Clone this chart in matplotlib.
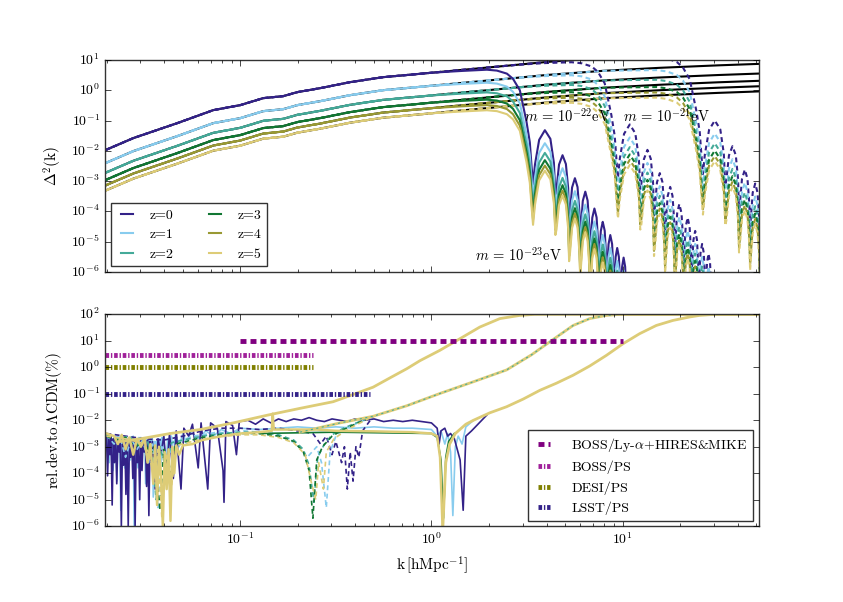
import numpy as np
import matplotlib
matplotlib.use("Agg")
import matplotlib.pyplot as plt
from matplotlib.ticker import NullLocator

# ---------------- top panel data ----------------
z_labels = ["z=0", "z=1", "z=2", "z=3", "z=4", "z=5"]
z_colors = ["#332288", "#88CCEE", "#44AA99", "#117733", "#999933", "#DDCC77"]
# growth of Delta^2 relative to z=0 (dex), read at large scales
z_offset = [0.0, -0.43, -0.75, -0.99, -1.17, -1.34]

# LCDM Delta^2 at z=0: (log10 k, log10 Delta^2)
cdm_z0 = [(-1.705, -1.97), (-1.559, -1.574), (-1.329, -1.079), (-1.141, -0.650),
          (-1.000, -0.485), (-0.880, -0.254), (-0.775, -0.188), (-0.702, -0.056),
          (-0.582, 0.076), (-0.426, 0.274), (-0.253, 0.439), (-0.060, 0.550),
          (0.160, 0.680), (0.400, 0.820), (0.600, 0.940), (0.900, 1.080),
          (1.200, 1.180), (1.500, 1.260), (1.720, 1.310)]

# FDM cut-off for m=1e-23 eV: (k [h/Mpc], log10 P_FDM/P_LCDM)
cutoff_23 = [
    (1.00, 0.00), (1.38, -0.03), (1.95, -0.07), (2.20, -0.13), (2.48, -0.26),
    (2.67, -0.45), (2.90, -0.85), (3.14, -1.90), (3.27, -2.60), (3.34, -3.40), (3.40, -4.00),
    (3.48, -3.35), (3.66, -2.55), (3.92, -2.25), (4.19, -2.55), (4.37, -3.35), (4.45, -4.40),
    (4.51, -4.22), (4.65, -3.42), (4.85, -3.12), (5.05, -3.42), (5.19, -4.22), (5.25, -5.30),
    (5.31, -5.01), (5.44, -4.21), (5.63, -3.91), (5.81, -4.21), (5.94, -5.01), (6.00, -5.90),
    (6.06, -5.48), (6.19, -4.68), (6.38, -4.38), (6.56, -4.68), (6.69, -5.48), (6.75, -6.50),
    (6.81, -6.06), (6.94, -5.26), (7.12, -4.96), (7.31, -5.26), (7.44, -6.06), (7.50, -7.00),
    (7.56, -6.52), (7.69, -5.72), (7.87, -5.42), (8.06, -5.72), (8.19, -6.52), (8.25, -7.50),
    (8.31, -6.97), (8.44, -6.17), (8.62, -5.87), (8.81, -6.17), (8.94, -6.97), (9.00, -7.90),
    (9.06, -7.41), (9.19, -6.61), (9.37, -6.31), (9.56, -6.61), (9.69, -7.41), (9.75, -8.30),
    (9.81, -7.74), (9.94, -6.94), (10.12, -6.64), (10.31, -6.94), (10.44, -7.74), (10.50, -8.70),
    (11.50, -9.60), (60.0, -14.0)]

# cut-off scale of m = 1e-23, 1e-22, 1e-21 eV relative to 1e-23 eV
mass_kscale = [1.0, 2.78, 7.74]

# ---------------- bottom panel data: (log10 k, log10 rel.dev[%]) ----------------
sig_23 = [(-1.627, -2.8), (-1.522, -2.7), (-1.366, -2.5), (-1.209, -2.35), (-1.037, -2.1),
          (-0.859, -1.81), (-0.687, -1.55), (-0.514, -1.3), (-0.399, -1.0), (-0.305, -0.75),
          (-0.217, -0.4), (-0.128, -0.05), (-0.060, 0.25), (0.044, 0.64), (0.149, 1.08),
          (0.253, 1.52), (0.358, 1.84), (0.462, 1.96), (0.540, 2.0), (1.71, 2.0)]
sig_22 = [(-0.687, -2.45), (-0.478, -2.1), (-0.305, -1.85), (-0.128, -1.45), (0.044, -0.99),
          (0.218, -0.55), (0.393, -0.1), (0.523, 0.47), (0.654, 1.14), (0.741, 1.58),
          (0.828, 1.84), (0.915, 1.96), (0.984, 2.0), (1.71, 2.0)]
sig_21 = [(0.060, -6.0), (0.075, -3.6), (0.095, -2.9), (0.125, -2.5), (0.180, -2.15),
          (0.220, -2.0), (0.305, -1.72), (0.393, -1.49), (0.480, -1.2), (0.567, -0.87),
          (0.654, -0.6), (0.741, -0.3), (0.828, 0.05), (0.915, 0.45), (1.002, 0.89),
          (1.089, 1.27), (1.176, 1.58), (1.263, 1.77), (1.350, 1.90), (1.402, 1.96),
          (1.480, 2.0), (1.71, 2.0)]

navy_solid = [(-1.700, -2.55), (-1.694, -4.10), (-1.688, -2.60), (-1.682, -3.30), (-1.676, -2.60),
              (-1.670, -5.20), (-1.664, -2.70), (-1.658, -3.60), (-1.652, -2.70), (-1.646, -4.40),
              (-1.640, -2.65), (-1.634, -3.20), (-1.628, -2.65), (-1.622, -6.00), (-1.616, -2.70),
              (-1.610, -3.70), (-1.604, -2.70), (-1.598, -4.80), (-1.592, -2.75), (-1.586, -6.00),
              (-1.580, -2.75), (-1.574, -3.40), (-1.568, -2.70), (-1.562, -4.20), (-1.556, -2.70),
              (-1.550, -6.00), (-1.544, -2.80), (-1.538, -3.60), (-1.532, -2.80), (-1.526, -5.00),
              (-1.520, -2.75), (-1.514, -3.90), (-1.508, -2.70), (-1.502, -3.20), (-1.496, -2.75),
              (-1.490, -4.50), (-1.484, -2.75), (-1.478, -5.60), (-1.472, -2.80), (-1.466, -3.50),
              (-1.460, -2.80), (-1.445, -4.60), (-1.430, -2.70), (-1.415, -3.30), (-1.400, -2.60),
              (-1.385, -3.90), (-1.370, -2.50), (-1.350, -4.20), (-1.335, -2.40), (-1.310, -4.60),
              (-1.295, -2.30), (-1.270, -2.60), (-1.250, -2.15), (-1.220, -3.80), (-1.205, -2.10),
              (-1.170, -4.60), (-1.155, -2.10), (-1.120, -2.30), (-1.090, -3.90), (-1.085, -5.10),
              (-1.075, -2.05), (-1.040, -2.20), (-1.020, -3.30), (-1.005, -2.05), (-0.960, -2.00),
              (-0.920, -2.15), (-0.880, -1.95), (-0.840, -2.10), (-0.800, -1.95), (-0.760, -2.05),
              (-0.720, -1.95), (-0.680, -2.00), (-0.640, -1.90), (-0.600, -2.00), (-0.560, -2.05),
              (-0.520, -1.95), (-0.480, -2.00), (-0.440, -2.05), (-0.400, -1.95), (-0.350, -2.00),
              (-0.300, -1.95), (-0.250, -2.05), (-0.200, -2.00), (-0.150, -2.05), (-0.100, -2.00),
              (-0.050, -2.05), (0.000, -2.10), (0.030, -2.30), (0.040, -2.90), (0.050, -2.40),
              (0.070, -2.30), (0.085, -2.60), (0.100, -2.50), (0.120, -2.70), (0.150, -3.50),
              (0.166, -5.40), (0.180, -2.60), (0.210, -2.40), (0.250, -2.10), (0.290, -1.80)]
sky_solid = [(-1.700, -2.50), (-1.695, -3.00), (-1.690, -2.60), (-1.685, -3.60), (-1.680, -2.60),
             (-1.675, -3.20), (-1.670, -2.70), (-1.665, -3.90), (-1.660, -2.65), (-1.655, -3.30),
             (-1.650, -2.60), (-1.645, -4.30), (-1.640, -2.60), (-1.635, -3.10), (-1.630, -2.70),
             (-1.625, -5.40), (-1.620, -2.70), (-1.615, -3.40), (-1.610, -2.65), (-1.605, -3.80),
             (-1.600, -2.65), (-1.595, -3.10), (-1.590, -2.70), (-1.585, -4.00), (-1.580, -2.70),
             (-1.575, -3.50), (-1.570, -2.65), (-1.565, -3.00), (-1.560, -2.60), (-1.555, -6.00),
             (-1.550, -2.70), (-1.545, -3.30), (-1.540, -2.70), (-1.535, -3.80), (-1.530, -2.65),
             (-1.525, -3.10), (-1.520, -2.65), (-1.515, -3.60), (-1.510, -2.70), (-1.505, -3.20),
             (-1.500, -2.70), (-1.495, -4.40), (-1.490, -2.75), (-1.485, -3.30), (-1.480, -2.75),
             (-1.475, -3.70), (-1.470, -2.70), (-1.465, -3.10), (-1.460, -2.70), (-1.455, -4.90),
             (-1.450, -2.80), (-1.445, -3.40), (-1.440, -2.80), (-1.435, -3.90), (-1.430, -2.70),
             (-1.425, -3.20), (-1.420, -2.70), (-1.415, -3.60), (-1.410, -2.65), (-1.405, -3.00),
             (-1.400, -2.65), (-1.390, -4.10), (-1.380, -2.70), (-1.370, -3.10), (-1.360, -2.60),
             (-1.350, -3.50), (-1.340, -2.55), (-1.320, -3.00), (-1.300, -2.50), (-1.280, -2.90),
             (-1.260, -2.45), (-1.220, -2.70), (-1.180, -2.40), (-1.140, -2.60), (-1.100, -2.35),
             (-1.050, -2.50), (-1.000, -2.30), (-0.900, -2.35), (-0.800, -2.30), (-0.700, -2.25),
             (-0.600, -2.30), (-0.500, -2.25), (-0.400, -2.30), (-0.300, -2.25), (-0.200, -2.30),
             (-0.100, -2.30), (0.000, -2.35), (0.030, -2.60), (0.050, -2.40), (0.070, -2.90),
             (0.085, -2.50), (0.100, -3.20), (0.112, -5.60), (0.125, -3.00), (0.140, -2.60),
             (0.160, -2.90), (0.180, -2.25), (0.220, -2.00)]
green_solid = [(-0.90, -2.5), (-0.50, -2.45), (0.00, -2.5), (0.03, -2.65), (0.05, -3.5),
               (0.063, -5.7), (0.075, -3.4), (0.09, -2.8), (0.12, -2.5)]
sand_solid = [(-1.70, -2.5), (-1.66, -2.6), (-1.64, -2.9), (-1.62, -2.55), (-1.60, -3.1),
              (-1.58, -2.65), (-1.56, -3.3), (-1.54, -2.7), (-1.52, -3.0), (-1.50, -2.7),
              (-1.485, -3.6), (-1.47, -2.9), (-1.455, -4.4), (-1.445, -2.95), (-1.435, -5.2),
              (-1.425, -3.0), (-1.415, -4.0), (-1.405, -6.0), (-1.395, -3.2), (-1.385, -4.6),
              (-1.375, -3.1), (-1.365, -5.8), (-1.355, -3.0), (-1.345, -4.0), (-1.335, -2.95),
              (-1.32, -3.3), (-1.30, -2.95), (-1.25, -2.9), (-1.20, -2.75), (-1.10, -2.6),
              (-1.00, -2.5), (-0.90, -2.45), (-0.835, -2.4), (-0.83, -1.75), (-0.825, -2.35),
              (-0.75, -2.35), (-0.60, -2.35), (-0.50, -2.4), (-0.30, -2.42), (-0.10, -2.45),
              (0.00, -2.5), (0.03, -2.6), (0.045, -3.4), (0.058, -6.0)]

navy_dash = [(-1.70, -2.5), (-1.60, -2.6), (-1.50, -2.7), (-1.40, -2.75), (-1.30, -2.6), (-1.20, -2.4),
             (-1.10, -2.3), (-1.00, -2.3), (-0.90, -2.35), (-0.80, -2.3), (-0.70, -2.4), (-0.62, -2.5),
             (-0.58, -2.9), (-0.55, -2.6), (-0.52, -3.3), (-0.50, -2.8), (-0.47, -3.6), (-0.455, -3.0),
             (-0.44, -4.6), (-0.425, -3.2), (-0.41, -4.3), (-0.395, -3.0), (-0.38, -3.4), (-0.36, -2.4),
             (-0.33, -2.1), (-0.305, -1.85)]
sky_dash = [(-1.70, -2.55), (-1.66, -2.9), (-1.63, -2.6), (-1.60, -3.4), (-1.57, -2.7), (-1.54, -3.1),
            (-1.51, -2.75), (-1.48, -3.6), (-1.46, -2.9), (-1.43, -5.3), (-1.41, -3.0), (-1.38, -3.5),
            (-1.35, -2.8), (-1.30, -2.75), (-1.25, -2.6), (-1.20, -2.55), (-1.12, -2.45), (-1.05, -2.5),
            (-0.98, -2.4), (-0.90, -2.45), (-0.82, -2.5), (-0.76, -2.7), (-0.70, -2.9), (-0.65, -3.4),
            (-0.60, -3.0), (-0.575, -3.6), (-0.55, -5.3), (-0.53, -3.2), (-0.50, -2.6), (-0.45, -2.3),
            (-0.40, -2.15), (-0.305, -1.85)]
teal_dash = [(-1.70, -2.55), (-1.64, -2.7), (-1.58, -2.6), (-1.53, -2.95), (-1.49, -2.7), (-1.46, -3.4),
             (-1.44, -5.0), (-1.42, -3.0), (-1.39, -3.8), (-1.36, -2.85), (-1.30, -2.75), (-1.20, -2.6),
             (-1.10, -2.5), (-1.00, -2.45), (-0.90, -2.45), (-0.80, -2.55), (-0.72, -2.75), (-0.67, -3.1),
             (-0.64, -3.7), (-0.615, -5.1), (-0.595, -3.4), (-0.56, -2.9), (-0.52, -2.55), (-0.46, -2.3),
             (-0.40, -2.12), (-0.305, -1.85)]
green_dash = [(-1.70, -2.6), (-1.65, -2.75), (-1.60, -2.65), (-1.55, -3.0), (-1.50, -2.8), (-1.47, -3.3),
              (-1.45, -3.0), (-1.42, -5.4), (-1.40, -3.1), (-1.37, -4.2), (-1.34, -2.9), (-1.28, -2.8),
              (-1.20, -2.65), (-1.10, -2.55), (-1.00, -2.5), (-0.90, -2.5), (-0.80, -2.6), (-0.72, -2.8),
              (-0.67, -3.2), (-0.64, -3.9), (-0.62, -5.7), (-0.60, -3.5), (-0.57, -3.0), (-0.52, -2.6),
              (-0.46, -2.35), (-0.40, -2.15), (-0.305, -1.85)]
sand_dash = [(-1.70, -2.6), (-1.60, -2.7), (-1.52, -2.85), (-1.48, -3.2), (-1.45, -4.2), (-1.43, -3.1),
             (-1.41, -5.7), (-1.39, -3.2), (-1.36, -4.5), (-1.33, -2.95), (-1.25, -2.8), (-1.15, -2.65),
             (-1.00, -2.55), (-0.90, -2.55), (-0.80, -2.65), (-0.72, -2.85), (-0.66, -3.3), (-0.63, -4.3),
             (-0.605, -5.0), (-0.59, -3.6), (-0.565, -4.6), (-0.55, -3.2), (-0.51, -2.7), (-0.45, -2.4),
             (-0.40, -2.2), (-0.305, -1.85)]

# survey sensitivities: label, k range, level [%], colour
survey_labels = [r"BOSS/Ly-$\alpha$+HIRES&MIKE", "BOSS/PS", "DESI/PS", "LSST/PS"]
survey_k = [(0.1, 10.0), (0.0197, 0.24), (0.0197, 0.24), (0.0197, 0.48)]
survey_level = [10.0, 3.0, 1.0, 0.1]
survey_colors = ["#800080", "#A0209A", "#808000", "#332288"]

# ---------------- style ----------------
plt.style.use("classic")
plt.rcParams.update({
    "figure.facecolor": "white",
    "savefig.facecolor": "white",
    "font.family": ["cmr10", "DejaVu Serif"],
    "mathtext.fontset": "cm",
    "mathtext.default": "rm",
    "axes.formatter.use_mathtext": True,
    "axes.unicode_minus": False,
    "font.size": 11,
    "xtick.labelsize": 10,
    "ytick.labelsize": 10,
    "legend.fontsize": 10,
    "axes.edgecolor": "#333333",
    "xtick.major.size": 4,
    "xtick.minor.size": 2,
    "ytick.major.size": 4,
    "ytick.minor.size": 2,
})

DASH = (3.5, 2.5)

fig, (ax1, ax2) = plt.subplots(2, 1, figsize=(8.43, 6.02), dpi=100, sharex=True)
fig.subplots_adjust(left=0.125, right=0.9, top=0.9, bottom=0.126, hspace=0.2)

# ---------------- top panel ----------------
lk_c, lv_c = np.array(cdm_z0).T
k_cut, s_cut = np.array(cutoff_23).T


def fdm_z0(scale):
    lk = np.union1d(lk_c, np.log10(k_cut * scale))
    lk = lk[lk < 1.75]
    lv = np.interp(lk, lk_c, lv_c) + np.interp(10 ** lk / scale, k_cut, s_cut)
    return 10 ** lk, lv


for off in z_offset:
    ax1.plot(10 ** lk_c, 10 ** (lv_c + off), color="k", lw=1.5)

for scale in [mass_kscale[2], mass_kscale[1]]:
    k, lv = fdm_z0(scale)
    for c, off in zip(z_colors, z_offset):
        ax1.plot(k, 10 ** (lv + off), color=c, lw=1.5, dashes=DASH)

k, lv = fdm_z0(mass_kscale[0])
for c, off, lab in zip(z_colors, z_offset, z_labels):
    ax1.plot(k, 10 ** (lv + off), color=c, lw=1.5, label=lab)

ax1.text(3.04, 10 ** -0.88, r"$\mathit{m}\,=\,10^{-22}\mathrm{eV}$", fontsize=10.5, va="center")
ax1.text(10.1, 10 ** -0.88, r"$\mathit{m}\,=\,10^{-21}\mathrm{eV}$", fontsize=10.5, va="center")
ax1.text(1.69, 10 ** -5.47, r"$\mathit{m}\,=\,10^{-23}\mathrm{eV}$", fontsize=10.5, va="center")

ax1.set_xscale("log")
ax1.set_yscale("log")
ax1.set_xlim(0.0197, 51.5)
ax1.set_ylim(1e-6, 1e1)
ax1.yaxis.set_minor_locator(NullLocator())
ax1.set_ylabel(r"$\Delta^2(\mathrm{k})$")
ax1.tick_params(labelbottom=False)
ax1.legend(loc="lower left", ncol=2, handlelength=1.5, columnspacing=2.2,
           handletextpad=0.9, borderaxespad=0.4)

# ---------------- bottom panel ----------------
def draw(ax, pts, color, lw=1.2, dashed=False, **kw):
    lk, lv = np.array(pts).T
    if dashed:
        kw["dashes"] = DASH
    ax.plot(10 ** lk, 10 ** lv, color=color, lw=lw, **kw)


draw(ax2, sky_solid, z_colors[1])
draw(ax2, navy_solid, z_colors[0])
draw(ax2, navy_dash, z_colors[0], dashed=True)
draw(ax2, sky_dash, z_colors[1], dashed=True)
draw(ax2, teal_dash, z_colors[2], dashed=True)
draw(ax2, green_dash, z_colors[3], dashed=True)
draw(ax2, sand_dash, z_colors[5], dashed=True)
draw(ax2, green_solid, z_colors[3])
draw(ax2, sand_solid, z_colors[5], lw=1.8)
draw(ax2, sig_23, z_colors[5], lw=2.0)
draw(ax2, sig_22, z_colors[5], lw=2.0)
draw(ax2, sig_22, z_colors[2], lw=0.8, dashes=(1.5, 2.5))
draw(ax2, sig_21, z_colors[5], lw=2.0)

survey_styles = [dict(dashes=(4.3, 2.9)), dict(dashes=(2.6, 1.3, 1.0, 1.3)),
                 dict(dashes=(2.6, 1.3, 1.0, 1.3)), dict(dashes=(2.6, 1.3, 1.0, 1.3))]
for lab, kr, lev, c, st in zip(survey_labels, survey_k, survey_level, survey_colors, survey_styles):
    ax2.plot(kr, [lev, lev], color=c, lw=3.5, label=lab, **st)

ax2.set_xscale("log")
ax2.set_yscale("log")
ax2.set_xlim(0.0197, 51.5)
ax2.set_ylim(1e-6, 1e2)
ax2.yaxis.set_minor_locator(NullLocator())
ax2.set_xlabel(r"$\mathrm{k}\,[\mathrm{hMpc}^{-1}]$")
ax2.set_ylabel(r"rel.dev.to$\,\Lambda$CDM(%)")
ax2.legend(loc="lower right", handlelength=1.5, handletextpad=1.2, borderaxespad=0.4)

fig.savefig("out.png", dpi=100)
